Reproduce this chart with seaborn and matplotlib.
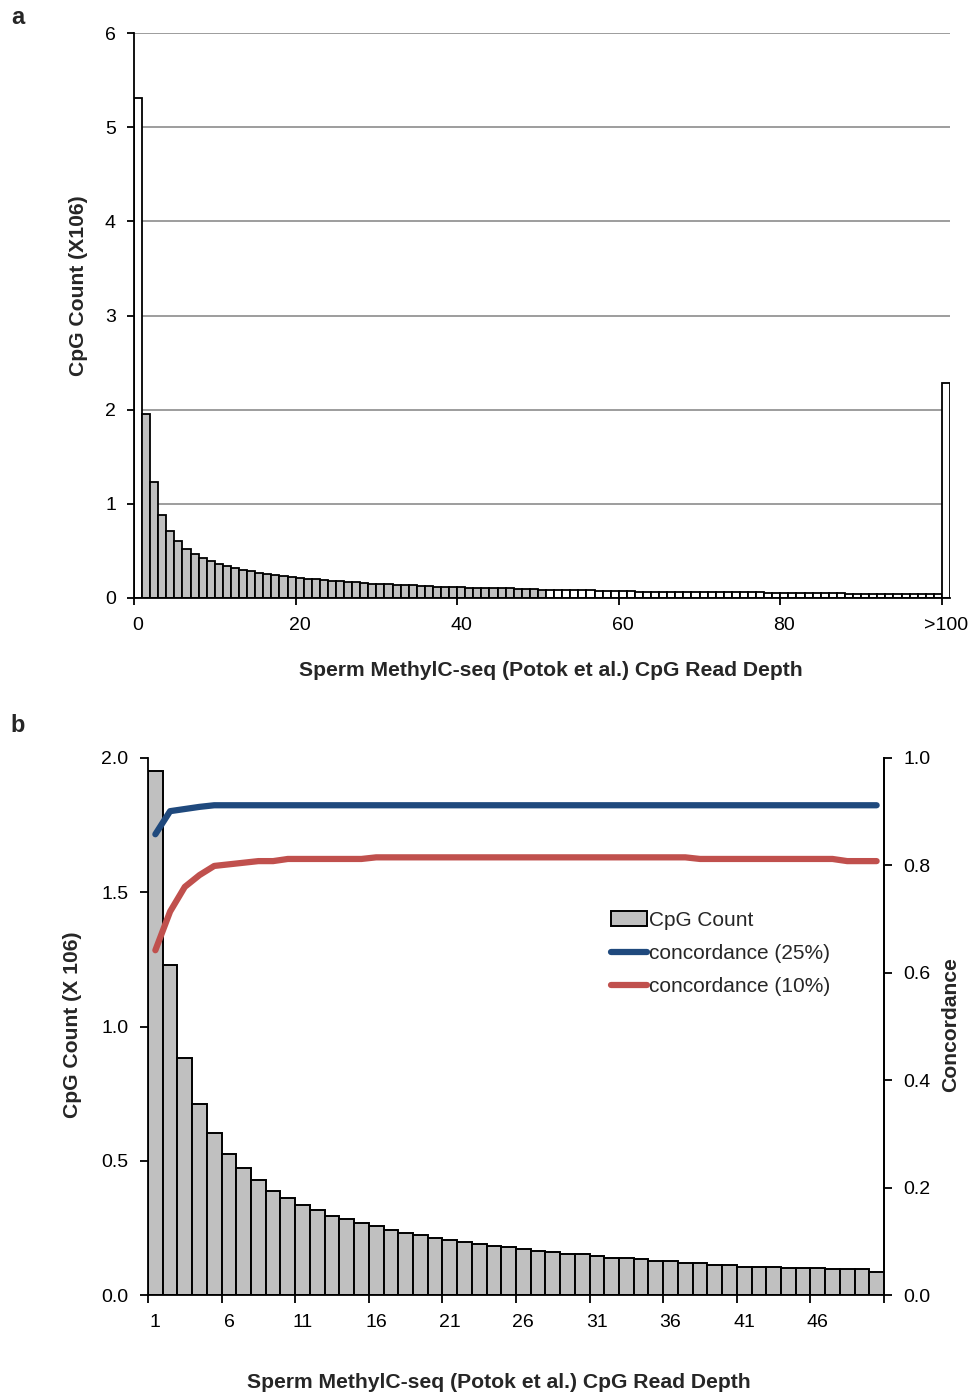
import numpy as np
import pandas as pd
import matplotlib
matplotlib.use("Agg")
import matplotlib.pyplot as plt
import seaborn as sns

# ---------------- data ----------------
# CpG counts (x 10^6) for read depths 1..50 (shared by both panels)
counts_1_50 = [1.95, 1.229, 0.883, 0.711, 0.603, 0.525, 0.472, 0.428, 0.389, 0.361,
               0.335, 0.315, 0.294, 0.282, 0.269, 0.256, 0.243, 0.231, 0.223, 0.211,
               0.205, 0.197, 0.190, 0.184, 0.178, 0.172, 0.165, 0.159, 0.153, 0.152,
               0.146, 0.139, 0.139, 0.133, 0.126, 0.126, 0.120, 0.120, 0.112, 0.112,
               0.106, 0.106, 0.106, 0.101, 0.101, 0.101, 0.095, 0.095, 0.095, 0.086]
count_depth0 = 5.31
counts_51_61 = [0.084, 0.083, 0.082, 0.081, 0.080, 0.080, 0.079, 0.078, 0.078, 0.077, 0.076]
counts_62_77 = [0.068, 0.068, 0.067, 0.067, 0.066, 0.066, 0.065, 0.065, 0.064, 0.064,
                0.063, 0.063, 0.062, 0.062, 0.062, 0.061]
counts_78_99 = [0.050, 0.050, 0.050, 0.049, 0.049, 0.049, 0.048, 0.048, 0.048, 0.048,
                0.047, 0.047, 0.047, 0.047, 0.046, 0.046, 0.046, 0.046, 0.045, 0.045,
                0.045, 0.045]
count_over100 = 2.28

depth_labels_a = [str(i) for i in range(100)] + [">100"]
counts_a = [count_depth0] + counts_1_50 + counts_51_61 + counts_62_77 + counts_78_99 + [count_over100]

depth_b = list(range(1, 51))
conc25 = [0.858, 0.901, 0.905, 0.909] + [0.912] * 46
conc10 = [0.642, 0.714, 0.760, 0.782, 0.799, 0.802, 0.805, 0.808, 0.808] + \
         [0.812] * 6 + [0.815] * 22 + [0.812] * 10 + [0.808] * 3

xtick_labels_a = ["0", "20", "40", "60", "80", ">100"]

# ---------------- style ----------------
sns.set_theme(style="white")
plt.rcParams["font.family"] = ["Liberation Sans", "DejaVu Sans"]
GREY = "#C0C0C0"
BLUE = "#1F497D"
RED = "#C0504D"
FS = 14
LFS = 15.2

fig = plt.figure(figsize=(9.76, 13.95), dpi=100)
W, H = 976, 1395

def axrect(l, t, r, b):
    return [l / W, 1 - b / H, (r - l) / W, (b - t) / H]

# ================= panel a =================
axa = fig.add_axes(axrect(134, 33, 950, 598))
dfa = pd.DataFrame({"depth": depth_labels_a, "count": counts_a})
fills = ["white" if (d == "0" or d == ">100" or int(d) > 50) else GREY for d in depth_labels_a]
sns.barplot(data=dfa, x="depth", y="count", hue="depth", palette=dict(zip(depth_labels_a, fills)),
            order=depth_labels_a, width=1.0, edgecolor="black", linewidth=1.3,
            legend=False, ax=axa, zorder=3)
axa.set_xlim(-0.5, len(depth_labels_a) - 0.5)
axa.set_ylim(0, 6)
axa.set_yticks(range(0, 7))
axa.yaxis.grid(True, color="#8c8c8c", linewidth=1.2)
axa.set_axisbelow(True)
for s in ["top", "right"]:
    axa.spines[s].set_visible(False)
for s in ["left", "bottom"]:
    axa.spines[s].set_color("black")
    axa.spines[s].set_linewidth(1.3)
    axa.spines[s].set_zorder(4)
major_pos = [depth_labels_a.index(l) for l in xtick_labels_a]
axa.set_xticks(major_pos)
axa.set_xticklabels(xtick_labels_a)
axa.set_xticks([p - 0.5 for p in major_pos], minor=True)
axa.tick_params(axis="x", which="major", length=0, pad=14, labelsize=FS, colors="black")
axa.tick_params(axis="x", which="minor", length=5, width=1.3, color="black", direction="out", bottom=True)
axa.tick_params(axis="y", which="major", length=5, width=1.3, color="black", direction="out",
                left=True, pad=8, labelsize=FS, labelcolor="black")
axa.set_xlabel("")
axa.set_ylabel("")
fig.text(79 / W, 1 - 286 / H, "CpG Count (X106)", rotation=90, ha="center", va="center",
         fontsize=LFS, fontweight="bold")
fig.text(551 / W, 1 - 670 / H, "Sperm MethylC-seq (Potok et al.) CpG Read Depth",
         ha="center", va="center", fontsize=LFS, fontweight="bold")
fig.text(18 / W, 1 - 18 / H, "a", ha="center", va="center", fontsize=FS + 3, fontweight="bold")

# ================= panel b =================
axb = fig.add_axes(axrect(148, 758, 884, 1295))
dfb = pd.DataFrame({"depth": depth_b, "count": counts_1_50,
                    "c25": conc25, "c10": conc10})
sns.barplot(data=dfb, x="depth", y="count", color=GREY, saturation=1, width=1.0,
            edgecolor="black", linewidth=1.4, ax=axb, label="CpG Count")
axb.set_xlim(-0.5, len(depth_b) - 0.5)
axb.set_ylim(0, 2.0)
axb.set_yticks([0, 0.5, 1.0, 1.5, 2.0])
axb.set_yticklabels([f"{v:.1f}" for v in [0, 0.5, 1.0, 1.5, 2.0]])
lab_pos = list(range(0, len(depth_b), 5))
axb.set_xticks(lab_pos)
axb.set_xticklabels([str(depth_b[i]) for i in lab_pos])
axb.set_xticks([p - 0.5 for p in lab_pos] + [len(depth_b) - 0.5], minor=True)
axb.tick_params(axis="x", which="major", length=0, pad=14, labelsize=FS, colors="black")
axb.tick_params(axis="x", which="minor", length=6, width=1.3, color="black", direction="out", bottom=True)
axb.tick_params(axis="y", which="major", length=6, width=1.3, color="black", direction="out",
                left=True, pad=8, labelsize=FS, labelcolor="black")
axb.set_xlabel("")
axb.set_ylabel("")
axb.spines["top"].set_visible(False)
for s in ["left", "bottom", "right"]:
    axb.spines[s].set_color("black")
    axb.spines[s].set_linewidth(1.3)

ax2 = axb.twinx()
dfb["pos"] = np.arange(len(depth_b))
sns.lineplot(data=dfb, x="pos", y="c25", color=BLUE, linewidth=4.5, ax=ax2,
             label="concordance (25%)", solid_capstyle="round")
sns.lineplot(data=dfb, x="pos", y="c10", color=RED, linewidth=4.5, ax=ax2,
             label="concordance (10%)", solid_capstyle="round")
ax2.set_ylim(0, 1.0)
ax2.set_xlim(-0.5, len(depth_b) - 0.5)
ax2.set_yticks([0, 0.2, 0.4, 0.6, 0.8, 1.0])
ax2.set_yticklabels([f"{v:.1f}" for v in [0, 0.2, 0.4, 0.6, 0.8, 1.0]])
ax2.tick_params(axis="y", which="major", length=6, width=1.3, color="black", direction="out",
                right=True, pad=8, labelsize=FS, labelcolor="black")
ax2.set_xlabel("")
ax2.set_ylabel("")
ax2.grid(False)
for s in ["top", "left", "bottom"]:
    ax2.spines[s].set_visible(False)
ax2.spines["right"].set_color("black")
ax2.spines["right"].set_linewidth(1.3)

bar_handle = axb.patches[0]
line_handles = ax2.get_lines()
if axb.get_legend():
    axb.get_legend().remove()
ax2.legend(handles=[bar_handle] + line_handles[:2],
           labels=["CpG Count", "concordance (25%)", "concordance (10%)"],
           loc="upper left", bbox_to_anchor=(611 / W, 1 - 911 / H), bbox_transform=fig.transFigure,
           frameon=False, fontsize=LFS - 0.2, handlelength=1.75, handletextpad=0.08,
           labelspacing=0.67, borderpad=0, borderaxespad=0)

fig.text(73 / W, 1 - 1025 / H, "CpG Count (X 106)", rotation=90, ha="center", va="center",
         fontsize=LFS, fontweight="bold")
fig.text(951 / W, 1 - 1025 / H, "Concordance", rotation=90, ha="center", va="center",
         fontsize=LFS, fontweight="bold")
fig.text(499 / W, 1 - 1383 / H, "Sperm MethylC-seq (Potok et al.) CpG Read Depth",
         ha="center", va="center", fontsize=LFS, fontweight="bold")
fig.text(18 / W, 1 - 725 / H, "b", ha="center", va="center", fontsize=FS + 3, fontweight="bold")

fig.savefig("out.png", dpi=100, facecolor="white")
